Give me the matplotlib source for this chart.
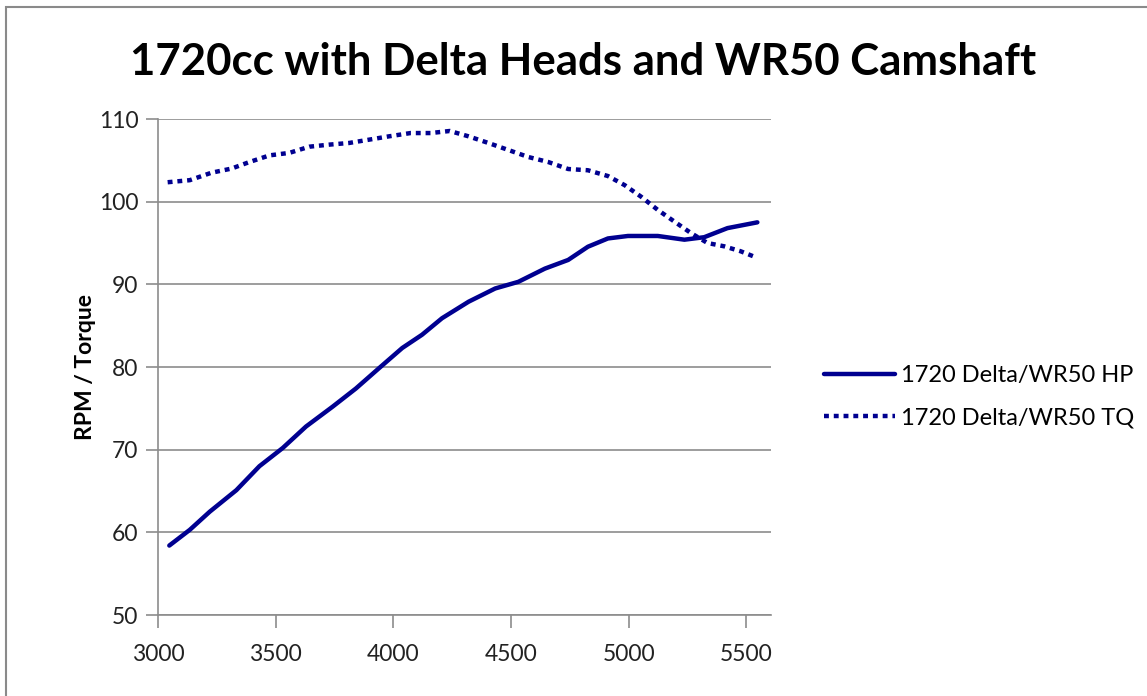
import matplotlib.pyplot as plt
from matplotlib.patches import Rectangle

plt.rcParams['font.family'] = ['Lato', 'DejaVu Sans']

# values
hp_rpm = [3048, 3135, 3220, 3333, 3431, 3530, 3629, 3742, 3841, 3939, 4038, 4122,
          4207, 4320, 4433, 4531, 4644, 4743, 4827, 4912, 4997, 5124, 5237, 5321,
          5420, 5547]
hp = [58.4, 60.3, 62.5, 65.1, 68.0, 70.2, 72.8, 75.2, 77.4, 79.85, 82.3, 83.9,
      85.9, 87.9, 89.5, 90.3, 91.9, 92.95, 94.55, 95.55, 95.85, 95.85, 95.4, 95.7,
      96.8, 97.5]

tq_rpm = [3041, 3135, 3227, 3312, 3389, 3474, 3558, 3643, 3728, 3812, 3897, 3981,
          4073, 4158, 4240, 4320, 4404, 4489, 4574, 4658, 4743, 4827, 4912, 4983,
          5053, 5124, 5194, 5265, 5335, 5406, 5476, 5547]
tq = [102.35, 102.6, 103.5, 104.0, 104.8, 105.6, 105.9, 106.65, 106.9, 107.1,
      107.5, 107.9, 108.3, 108.3, 108.55, 107.9, 107.1, 106.25, 105.4, 104.8,
      103.95, 103.8, 103.1, 102.0, 100.6, 99.0, 97.6, 96.2, 95.0, 94.6, 94.0, 93.2]

title = "1720cc with Delta Heads and WR50 Camshaft"
hp_label = "1720 Delta/WR50 HP"
tq_label = "1720 Delta/WR50 TQ"
x_ticks = [3000, 3500, 4000, 4500, 5000, 5500]
y_ticks = [50, 60, 70, 80, 90, 100, 110]

navy = "#000090"
grid_gray = "#8c8c8c"

fig = plt.figure(figsize=(11.47, 6.96), dpi=100)
ax = fig.add_axes([158 / 1147, 1 - 615 / 696, (771 - 158) / 1147, (615 - 119) / 696])

ax.plot(hp_rpm, hp, color=navy, lw=3.2, solid_capstyle="round",
        solid_joinstyle="round", label=hp_label)
ax.plot(tq_rpm, tq, color=navy, lw=3.2, linestyle=(0, (1.1, 1.1)), label=tq_label)

ax.set_xlim(3000, 5605)
ax.set_ylim(50, 110)
ax.set_xticks(x_ticks)
ax.set_yticks(y_ticks)
ax.yaxis.grid(True, color=grid_gray, lw=1.2)
ax.set_axisbelow(True)
for side in ["top", "right"]:
    ax.spines[side].set_visible(False)
for side in ["left", "bottom"]:
    ax.spines[side].set_color(grid_gray)
    ax.spines[side].set_linewidth(1.2)
ax.tick_params(axis="both", colors=grid_gray, length=9, width=1.2,
               labelsize=16.5, labelcolor="#222222")
ax.tick_params(axis="x", pad=12)
ax.tick_params(axis="y", pad=5)

ax.set_ylabel("RPM / Torque", fontsize=16.5, fontweight="bold", labelpad=2)

fig.text(583 / 1147, 1 - 62 / 696, title, fontsize=31.5, fontweight="bold",
         ha="center", va="center")

leg = ax.legend(loc="center left", bbox_to_anchor=(1.052, 0.44), frameon=False,
                fontsize=17, handlelength=3.0, handletextpad=0.25, labelspacing=0.9)

# chart border like the spreadsheet frame
fig.patches.append(Rectangle((6 / 1147, -0.1), 1.2, 1.1 - 7 / 696,
                             transform=fig.transFigure, fill=False,
                             edgecolor="#8a8a8a", lw=1.5))

fig.savefig("out.png", dpi=100)
